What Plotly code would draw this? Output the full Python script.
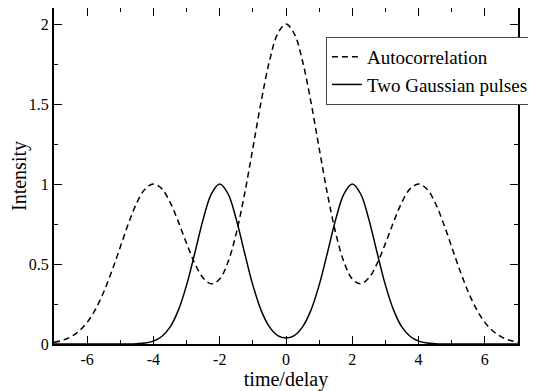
import plotly.graph_objects as go

# time/delay sample points
t = [-7.0, -6.75, -6.5, -6.25, -6.0, -5.75, -5.5, -5.25, -5.0, -4.75, -4.5, -4.25,
     -4.0, -3.75, -3.5, -3.25, -3.0, -2.75, -2.5, -2.25, -2.0, -1.75, -1.5, -1.25,
     -1.0, -0.75, -0.5, -0.25, 0.0, 0.25, 0.5, 0.75, 1.0, 1.25, 1.5, 1.75,
     2.0, 2.25, 2.5, 2.75, 3.0, 3.25, 3.5, 3.75, 4.0, 4.25, 4.5, 4.75,
     5.0, 5.25, 5.5, 5.75, 6.0, 6.25, 6.5, 6.75, 7.0]

autocorrelation = [0.011, 0.023, 0.044, 0.080, 0.135, 0.216, 0.325, 0.458, 0.607, 0.755, 0.883, 0.969,
                   1.000, 0.971, 0.887, 0.765, 0.629, 0.503, 0.413, 0.376, 0.406, 0.512, 0.693, 0.938,
                   1.224, 1.515, 1.767, 1.939, 2.000, 1.939, 1.767, 1.515, 1.224, 0.938, 0.693, 0.512,
                   0.406, 0.376, 0.413, 0.503, 0.629, 0.765, 0.887, 0.971, 1.000, 0.969, 0.883, 0.755,
                   0.607, 0.458, 0.325, 0.216, 0.135, 0.080, 0.044, 0.023, 0.011]

two_pulses = [0.0, 0.0, 0.0, 0.0, 0.0, 0.0, 0.0, 0.0, 0.0, 0.0005, 0.002, 0.006,
              0.018, 0.047, 0.105, 0.210, 0.368, 0.570, 0.779, 0.939, 1.000, 0.939, 0.779, 0.570,
              0.368, 0.210, 0.107, 0.053, 0.037, 0.053, 0.107, 0.210, 0.368, 0.570, 0.779, 0.939,
              1.000, 0.939, 0.779, 0.570, 0.368, 0.210, 0.105, 0.047, 0.018, 0.006, 0.002, 0.0005,
              0.0, 0.0, 0.0, 0.0, 0.0, 0.0, 0.0, 0.0, 0.0]

x_ticks = [-6, -4, -2, 0, 2, 4, 6]
x_tick_labels = ["-6", "-4", "-2", "0", "2", "4", "6"]
y_ticks = [0, 0.5, 1, 1.5, 2]
y_tick_labels = ["0", "0.5", "1", "1.5", "2"]

FONT = '"Liberation Serif", "Times New Roman", Times, serif'

fig = go.Figure()
fig.add_trace(go.Scatter(x=t, y=autocorrelation, mode="lines", name="Autocorrelation",
                         line=dict(color="black", width=1.5, dash="6px,4px", shape="spline")))
fig.add_trace(go.Scatter(x=t, y=two_pulses, mode="lines", name="Two Gaussian pulses",
                         line=dict(color="black", width=1.5, shape="spline")))

axis_common = dict(
    showgrid=False, zeroline=False, showline=True, linecolor="black", linewidth=2,
    mirror="ticks", ticks="inside", ticklen=8, tickwidth=1, tickcolor="black",
    tickfont=dict(family=FONT, size=16, color="black"),
)

fig.update_xaxes(range=[-7, 7], tickvals=x_ticks, ticktext=x_tick_labels,
                 minor=dict(dtick=1, ticks="inside", ticklen=4, tickcolor="black", tickwidth=1),
                 title=dict(text="time/delay", font=dict(family=FONT, size=20, color="black"), standoff=4),
                 **axis_common)
fig.update_yaxes(range=[0, 2.1], tickvals=y_ticks, ticktext=y_tick_labels,
                 minor=dict(dtick=0.25, tick0=0, ticks="inside", ticklen=4, tickcolor="black", tickwidth=1),
                 title=dict(text="Intensity", font=dict(family=FONT, size=20, color="black"), standoff=4),
                 **axis_common)

# the page adds an 8px body margin, so the figure is sized to fit the window
fig.update_layout(
    width=528, height=383,
    margin=dict(l=46, r=18, t=0, b=47, autoexpand=False),
    paper_bgcolor="white", plot_bgcolor="white",
    showlegend=True,
    legend=dict(x=0.586, y=0.914, xanchor="left", yanchor="top",
                bgcolor="white", bordercolor="#444444", borderwidth=1,
                font=dict(family=FONT, size=19, color="black"),
                itemwidth=30, tracegroupgap=0),
)

fig.write_html("out.html")
